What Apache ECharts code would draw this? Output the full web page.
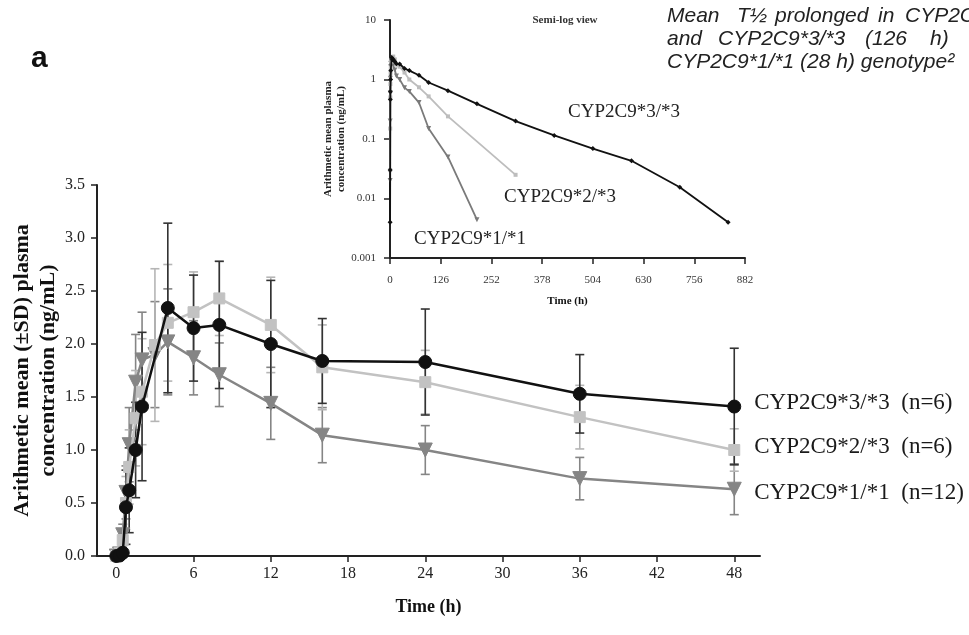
<!DOCTYPE html>
<html><head><meta charset="utf-8">
<script src="https://cdn.jsdelivr.net/npm/echarts@6/dist/echarts.min.js"></script>
<style>html,body{margin:0;padding:0;background:#fff}#c{width:969px;height:635px}</style>
</head><body><div id="c"></div>
<script>
// ---- data ----
const times = [0, 0.25, 0.5, 0.75, 1, 1.5, 2, 3, 4, 6, 8, 12, 16, 24, 36, 48];
const mean33 = [0, 0.004, 0.03, 0.46, 0.62, 1.0, 1.41, null, 2.34, 2.15, 2.18, 2.0, 1.84, 1.83, 1.53, 1.41];
const sd33   = [0, 0.003, 0.03, 0.35, 0.4, 0.45, 0.7, null, 0.8, 0.5, 0.6, 0.6, 0.4, 0.5, 0.37, 0.55];
const mean23 = [0, 0.03, 0.15, 0.5, 0.84, 1.3, 1.55, 1.99, 2.2, 2.3, 2.43, 2.18, 1.78, 1.64, 1.31, 1.0];
const sd23   = [0, 0.02, 0.1, 0.25, 0.35, 0.45, 0.5, 0.72, 0.55, 0.38, 0.35, 0.45, 0.4, 0.3, 0.3, 0.2];
const mean11 = [0, 0.02, 0.2, 0.6, 1.05, 1.64, 1.85, 1.9, 2.02, 1.87, 1.71, 1.44, 1.14, 1.0, 0.73, 0.63];
const sd11   = [0, 0.02, 0.1, 0.25, 0.35, 0.45, 0.45, 0.5, 0.5, 0.35, 0.3, 0.34, 0.26, 0.23, 0.2, 0.24];
const lateTimes33 = [72, 96, 144, 216, 312, 408, 504, 600, 720, 840];
const late33      = [1.18, 0.89, 0.65, 0.39, 0.2, 0.115, 0.069, 0.043, 0.0155, 0.004];
const lateTimes23 = [72, 96, 144, 312];
const late23      = [0.74, 0.52, 0.24, 0.025];
const lateTimes11 = [72, 96, 144, 216];
const late11      = [0.41, 0.15, 0.05, 0.0044];
const xTicks = [0, 6, 12, 18, 24, 30, 36, 42, 48];
const seriesNames = ['CYP2C9*3/*3', 'CYP2C9*2/*3', 'CYP2C9*1/*1'];
const legendLabels = ['CYP2C9*3/*3  (n=6)', 'CYP2C9*2/*3  (n=6)', 'CYP2C9*1/*1  (n=12)'];

// ---- styles ----
const SERIF = 'Liberation Serif';
const C33 = '#111111', C23 = '#c2c2c2', C11 = '#858585';
const ITAL = 'italic 21px "Liberation Sans", Arial, sans-serif';

function pairs(ts, vs) { return ts.map((t, i) => [t, vs[i]]).filter(p => p[1] !== null); }
function insetData(vs, lt, lv) {
  return pairs(times, vs).filter(p => p[1] > 0).concat(pairs(lt, lv));
}
function errSeries(vs, sds, color, z) {
  return {
    type: 'custom', xAxisIndex: 0, yAxisIndex: 0, z: z, silent: true,
    data: times.map((t, i) => vs[i] === null ? null : [t, vs[i] - sds[i], vs[i] + sds[i]])
               .filter(d => d !== null && d[2] - d[1] > 0.05),
    renderItem: function (params, api) {
      const lo = api.coord([api.value(0), api.value(1)]);
      const hi = api.coord([api.value(0), api.value(2)]);
      const w = 4.5;
      const st = { stroke: color, lineWidth: 1.6 };
      return { type: 'group', children: [
        { type: 'line', shape: { x1: lo[0], y1: lo[1], x2: hi[0], y2: hi[1] }, style: st },
        { type: 'line', shape: { x1: hi[0] - w, y1: hi[1], x2: hi[0] + w, y2: hi[1] }, style: st },
        { type: 'line', shape: { x1: lo[0] - w, y1: lo[1], x2: lo[0] + w, y2: lo[1] }, style: st }
      ]};
    }
  };
}
function mainLine(i, vs, color, symbol, size, rot, z, offY) {
  return {
    type: 'line', name: seriesNames[i], xAxisIndex: 0, yAxisIndex: 0, z: z,
    data: pairs(times, vs), symbol: symbol, symbolSize: size, symbolRotate: rot,
    showAllSymbol: true,
    lineStyle: { color: color, width: 2.5 }, itemStyle: { color: color, borderColor: color },
    endLabel: { show: true, formatter: legendLabels[i], distance: 20, offset: [0, offY],
      fontFamily: SERIF, fontSize: 23, color: '#1a1a1a' }
  };
}
function insetLine(data, color, symbol, size, rot, z) {
  return {
    type: 'line', xAxisIndex: 1, yAxisIndex: 1, z: z, data: data,
    symbol: symbol, symbolSize: size, symbolRotate: rot, showAllSymbol: true,
    lineStyle: { color: color, width: 1.8 }, itemStyle: { color: color }
  };
}
function word(text, x, y) {
  return { type: 'text', x: x, y: y, style: { text: text, font: ITAL, fill: '#222', verticalAlign: 'middle' } };
}

const chart = echarts.init(document.getElementById('c'), null, { renderer: 'canvas' });
chart.setOption({
  animation: false,
  backgroundColor: '#ffffff',
  grid: [
    { left: 97, right: 209, top: 185, bottom: 79, outerBoundsMode: 'none', containLabel: false },
    { left: 390, right: 224, top: 20, bottom: 377, outerBoundsMode: 'none', containLabel: false }
  ],
  xAxis: [
    { type: 'value', gridIndex: 0, min: -1.5, max: 50,
      name: 'Time (h)', nameLocation: 'middle', nameGap: 42,
      nameTextStyle: { fontFamily: SERIF, fontWeight: 'bold', fontSize: 18, color: '#111' },
      axisLine: { onZero: false, lineStyle: { color: '#222', width: 2 } },
      axisTick: { customValues: xTicks, length: 6, lineStyle: { color: '#222', width: 1.5 } },
      axisLabel: { customValues: xTicks, margin: 10, fontFamily: SERIF, fontSize: 16, color: '#222' },
      splitLine: { show: false } },
    { type: 'value', gridIndex: 1, min: 0, max: 882, interval: 126,
      name: 'Time (h)', nameLocation: 'middle', nameGap: 38,
      nameTextStyle: { fontFamily: SERIF, fontWeight: 'bold', fontSize: 11, color: '#111' },
      axisLine: { onZero: false, lineStyle: { color: '#222', width: 2 } },
      axisTick: { length: 6, lineStyle: { color: '#222', width: 1.5 } },
      axisLabel: { margin: 17, fontFamily: SERIF, fontSize: 11, color: '#333', showMaxLabel: true },
      splitLine: { show: false } }
  ],
  yAxis: [
    { type: 'value', gridIndex: 0, min: 0, max: 3.5, interval: 0.5,
      name: 'Arithmetic mean (\u00B1SD) plasma\nconcentration (ng/mL)', nameLocation: 'middle', nameGap: 36,
      nameMoveOverlap: false,
      nameTextStyle: { fontFamily: SERIF, fontWeight: 'bold', fontSize: 22, color: '#111', lineHeight: 26 },
      axisLine: { onZero: false, lineStyle: { color: '#222', width: 2 } },
      axisTick: { length: 6, lineStyle: { color: '#222', width: 1.5 } },
      axisLabel: { margin: 12, fontFamily: SERIF, fontSize: 16, color: '#222', formatter: v => v.toFixed(1) },
      splitLine: { show: false } },
    { type: 'log', gridIndex: 1, logBase: 10, min: 0.001, max: 10,
      name: 'Arithmetic mean plasma\nconcentration (ng/mL)', nameLocation: 'middle', nameGap: 36,
      nameTextStyle: { fontFamily: SERIF, fontWeight: 'bold', fontSize: 11, color: '#222', lineHeight: 13 },
      axisLine: { onZero: false, lineStyle: { color: '#222', width: 2 } },
      axisTick: { length: 6, lineStyle: { color: '#222', width: 1.5 } },
      axisLabel: { margin: 14, fontFamily: SERIF, fontSize: 11, color: '#333',
        formatter: v => String(Number(Number(v).toPrecision(3))) },
      splitLine: { show: false }, minorTick: { show: false } }
  ],
  series: [
    errSeries(mean11, sd11, C11, 2),
    errSeries(mean23, sd23, '#b5b5b5', 3),
    errSeries(mean33, sd33, '#333', 4),
    mainLine(2, mean11, C11, 'triangle', 14, 180, 5, 4),
    mainLine(1, mean23, C23, 'rect', 11, 0, 6, -3),
    mainLine(0, mean33, C33, 'circle', 13, 0, 7, -4),
    insetLine(insetData(mean11, lateTimes11, late11), '#7a7a7a', 'triangle', 5, 180, 5),
    insetLine(insetData(mean23, lateTimes23, late23), '#bdbdbd', 'rect', 4, 0, 6),
    insetLine(insetData(mean33, lateTimes33, late33), '#111', 'diamond', 5, 0, 7)
  ],
  graphic: [
    { type: 'text', left: 31, top: 44, style: { text: 'a', font: 'bold 30px "Liberation Sans", Arial, sans-serif', fill: '#111' } },
    { type: 'text', x: 565, y: 20, style: { text: 'Semi-log view', font: 'bold 11px "Liberation Serif", serif', fill: '#333', align: 'center', verticalAlign: 'middle' } },
    { type: 'text', x: 624, y: 112, style: { text: 'CYP2C9*3/*3', font: '19px "Liberation Serif", serif', fill: '#222', align: 'center', verticalAlign: 'middle' } },
    { type: 'text', x: 560, y: 197, style: { text: 'CYP2C9*2/*3', font: '19px "Liberation Serif", serif', fill: '#222', align: 'center', verticalAlign: 'middle' } },
    { type: 'text', x: 470, y: 239, style: { text: 'CYP2C9*1/*1', font: '19px "Liberation Serif", serif', fill: '#222', align: 'center', verticalAlign: 'middle' } },
    word('Mean', 667, 16), word('T\u00BD', 737, 16), word('prolonged', 775, 16), word('in', 878, 16), word('CYP2C9*3/*3', 905, 16),
    word('and', 667, 39), word('CYP2C9*3/*3', 718, 39), word('(126', 865, 39), word('h)', 930, 39),
    word('CYP2C9*1/*1 (28 h) genotype\u00B2', 667, 62)
  ]
});
</script></body></html>
